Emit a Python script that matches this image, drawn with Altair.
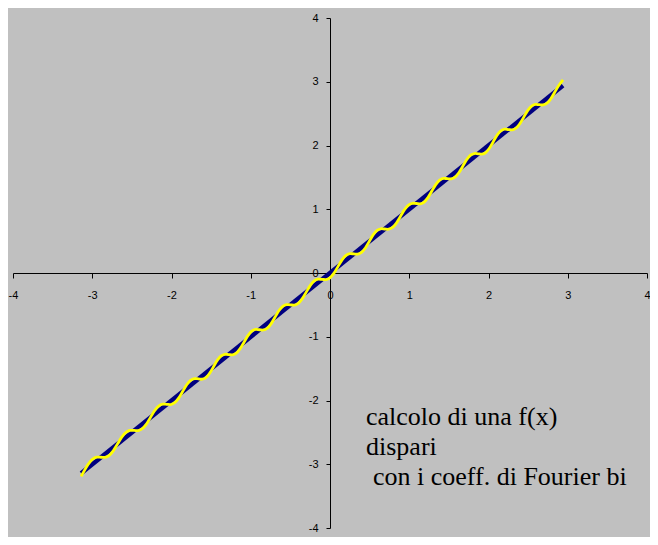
import altair as alt
import pandas as pd

# straight line f(x) = x (dark blue)
line_x = [-3.14, 2.94]
line_y = [-3.14, 2.94]

# Fourier partial sum (yellow)
fourier_x = [
    -3.14, -3.100, -3.048, -2.995, -2.943,
    -2.890, -2.838, -2.785, -2.733, -2.680, -2.628, -2.575, -2.523,
    -2.470, -2.419, -2.368, -2.316, -2.265, -2.214, -2.163, -2.111,
    -2.060, -2.010, -1.960, -1.910, -1.860, -1.810, -1.760, -1.710,
    -1.660, -1.613, -1.565, -1.518, -1.470, -1.423, -1.375, -1.328,
    -1.280, -1.231, -1.183, -1.134, -1.085, -1.036, -0.988, -0.939,
    -0.890, -0.841, -0.793, -0.744, -0.695, -0.646, -0.598, -0.549,
    -0.500, -0.450, -0.400, -0.350, -0.300, -0.250, -0.200, -0.150,
    -0.100, -0.050, 0.000, 0.050, 0.100, 0.150, 0.200, 0.250,
    0.300, 0.349, 0.398, 0.446, 0.495, 0.544, 0.593, 0.641,
    0.690, 0.740, 0.790, 0.840, 0.890, 0.940, 0.990, 1.040,
    1.090, 1.139, 1.188, 1.236, 1.285, 1.334, 1.383, 1.431,
    1.480, 1.529, 1.578, 1.626, 1.675, 1.724, 1.773, 1.821,
    1.870, 1.918, 1.965, 2.013, 2.060, 2.108, 2.155, 2.203,
    2.250, 2.299, 2.348, 2.396, 2.445, 2.494, 2.543, 2.591,
    2.640, 2.689, 2.738, 2.786, 2.835, 2.884, 2.940,
]
fourier_y = [
    -3.190, -3.100, -2.995, -2.920, -2.890,
    -2.890, -2.891, -2.860, -2.786, -2.680, -2.575, -2.500, -2.470,
    -2.470, -2.472, -2.443, -2.369, -2.265, -2.161, -2.088, -2.058,
    -2.060, -2.063, -2.035, -1.963, -1.860, -1.757, -1.685, -1.657,
    -1.660, -1.666, -1.640, -1.571, -1.470, -1.370, -1.300, -1.275,
    -1.280, -1.284, -1.258, -1.187, -1.085, -0.983, -0.913, -0.886,
    -0.890, -0.894, -0.868, -0.797, -0.695, -0.593, -0.523, -0.496,
    -0.500, -0.503, -0.475, -0.403, -0.300, -0.197, -0.125, -0.097,
    -0.100, -0.103, -0.075, -0.003, 0.100, 0.203, 0.275, 0.303,
    0.300, 0.296, 0.323, 0.393, 0.495, 0.597, 0.668, 0.694,
    0.690, 0.687, 0.715, 0.787, 0.890, 0.993, 1.065, 1.093,
    1.090, 1.086, 1.113, 1.183, 1.285, 1.387, 1.458, 1.484,
    1.480, 1.476, 1.503, 1.573, 1.675, 1.777, 1.848, 1.874,
    1.870, 1.865, 1.890, 1.960, 2.060, 2.161, 2.230, 2.256,
    2.250, 2.246, 2.273, 2.343, 2.445, 2.547, 2.618, 2.644,
    2.640, 2.636, 2.663, 2.733, 2.835, 2.937, 3.030,
]
assert len(fourier_x) == len(fourier_y)

tick_values = [-4, -3, -2, -1, 0, 1, 2, 3, 4]
note_lines = ["calcolo di una f(x)", "dispari"]
note_last = "con i coeff. di Fourier bi"

W, H = 634, 510

line_df = pd.DataFrame({"x": line_x, "y": line_y, "i": range(len(line_x))})
four_df = pd.DataFrame({"x": fourier_x, "y": fourier_y, "i": range(len(fourier_x))})

label_expr = "datum.value < 0 ? '-' + format(-datum.value, 'd') : format(datum.value, 'd')"

xscale = alt.Scale(domain=[-4, 4], nice=False, zero=False)
yscale = alt.Scale(domain=[-4, 4], nice=False, zero=False)

xaxis = alt.Axis(values=tick_values, orient="bottom", offset=-H / 2, title=None,
                 grid=False, tickSize=5, labelPadding=11, labelExpr=label_expr,
                 labelOverlap=False, labelFlush=False, labelBound=False)
yaxis = alt.Axis(values=tick_values, orient="left", offset=-W / 2, title=None,
                 grid=False, tickSize=4, labelPadding=8, labelExpr=label_expr,
                 labelOverlap=False, labelFlush=False, labelBound=False)

base_line = alt.Chart(line_df).mark_line(color="#000080", strokeWidth=4.5).encode(
    x=alt.X("x:Q", scale=xscale, axis=xaxis),
    y=alt.Y("y:Q", scale=yscale, axis=yaxis),
    order="i:Q",
)

fourier = alt.Chart(four_df).mark_line(color="#FFFF00", strokeWidth=2.8,
                                       interpolate="catmull-rom").encode(
    x=alt.X("x:Q", scale=xscale),
    y=alt.Y("y:Q", scale=yscale),
    order="i:Q",
)

text_style = dict(align="left", baseline="alphabetic", font="Liberation Serif",
                  fontSize=26, lineHeight=30, color="black")

note = alt.Chart(pd.DataFrame({"t": [0]})).mark_text(
    text=note_lines, **text_style
).encode(x=alt.value(353), y=alt.value(407))

note2 = alt.Chart(pd.DataFrame({"t": [0]})).mark_text(
    text=note_last, **text_style
).encode(x=alt.value(360), y=alt.value(467))

chart = alt.layer(base_line, fourier, note, note2).properties(
    width=W, height=H,
    padding={"left": 5, "top": 10, "right": 3, "bottom": 9},
    autosize=alt.AutoSizeParams(type="none"),
    background="#c0c0c0",
).configure_view(stroke=None).configure_axis(
    domainColor="black", tickColor="black", labelColor="black",
    labelFont="Liberation Sans", labelFontSize=11, domainWidth=1, tickWidth=1,
)

chart.save("out.html", embed_options={"renderer": "svg", "actions": False})
